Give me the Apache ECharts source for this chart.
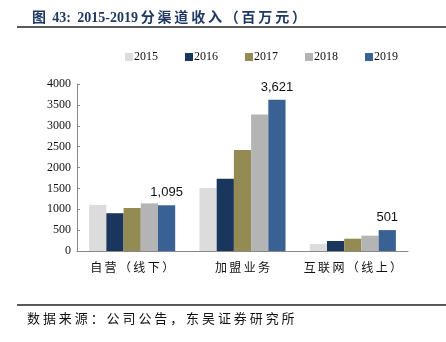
<!DOCTYPE html>
<html><head><meta charset="utf-8">
<script src="https://cdn.jsdelivr.net/npm/echarts@6/dist/echarts.min.js"></script>
<style>html,body{margin:0;padding:0;background:#fff}#c{width:446px;height:342px}</style>
</head><body><div id="c"></div>
<script>
const categories = ['自营（线下）', '加盟业务', '互联网（线上）'];
const years = ['2015', '2016', '2017', '2018', '2019'];
const v2015 = [1105, 1510, 168];
const v2016 = [905, 1730, 240];
const v2017 = [1030, 2420, 295];
const v2018 = [1140, 3270, 367];
const v2019 = [1095, 3621, 501];
const yTicks = [0, 500, 1000, 1500, 2000, 2500, 3000, 3500, 4000];

const colors = ['#DCDCDC', '#1B365D', '#948A54', '#B4B4B4', '#3A6193'];
const values = [v2015, v2016, v2017, v2018, v2019];
const sp = s => s.split('').join('\u2009');

const chart = echarts.init(document.getElementById('c'), null, {renderer: 'canvas'});
const series = years.map((y, i) => ({
  name: y, type: 'bar', data: values[i], barGap: '0%', barCategoryGap: '22%',
  itemStyle: {color: colors[i]},
  label: i === 4 ? {show: true, position: 'top', distance: 6, color: '#111',
    fontFamily: 'Liberation Sans, Arial', fontSize: 13,
    formatter: p => p.value.toLocaleString('en-US')} : {show: false}
}));
chart.setOption({
  animation: false,
  title: {text: '图\u2009 43:\u2009 2015-2019\u2009' + sp('分渠道收入（百万元）'), left: 27, top: 6,
    textStyle: {color: '#1F3864', fontSize: 14, fontWeight: 'bold', fontFamily: 'Liberation Serif, Noto Sans CJK SC'}},
  legend: {top: 46, left: 120, itemWidth: 8, itemHeight: 8, itemGap: 27, icon: 'rect',
    textStyle: {fontFamily: 'Liberation Serif', fontSize: 12, color: '#111', padding: [0,0,0,-4]},
    data: years},
  grid: {left: 77, right: 38, top: 84, bottom: 91},
  xAxis: {type: 'category', data: categories,
    axisLine: {lineStyle: {color: '#888'}},
    axisTick: {inside: true, length: 5, lineStyle: {color: '#888'}},
    axisLabel: {color: '#111', fontSize: 12, margin: 10, interval: 0, fontFamily: 'Noto Sans CJK SC',
      formatter: s => sp(s)}},
  yAxis: {type: 'value', min: 0, max: 4000, interval: 500,
    axisLine: {show: true, lineStyle: {color: '#888'}},
    axisTick: {show: true, inside: true, length: 3, lineStyle: {color: '#888'}},
    splitLine: {show: false},
    axisLabel: {color: '#111', fontSize: 12, margin: 6, fontFamily: 'Liberation Serif',
      formatter: v => String(v)}},
  graphic: [
    {type: 'line', shape: {x1: 17, y1: 27, x2: 446, y2: 27}, style: {stroke: '#222', lineWidth: 1.5}},
    {type: 'line', shape: {x1: 17, y1: 305, x2: 446, y2: 305}, style: {stroke: '#222', lineWidth: 1.5}},
    {type: 'text', left: 27, top: 312, style: {text: '数据来源：公司公告，东吴证券研究所'.split('').join(' '), fill: '#111',
      font: '13px "Noto Sans CJK SC"'}}
  ],
  series: series
});
</script></body></html>
